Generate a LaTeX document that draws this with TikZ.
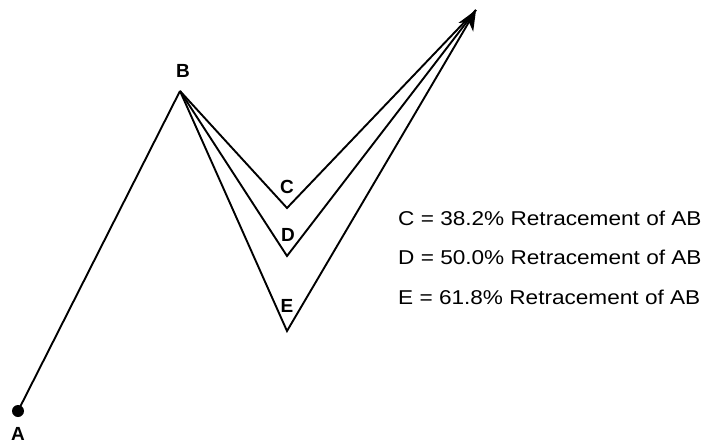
\documentclass[tikz,border=0pt]{standalone}
\usepackage{fontspec}
\setmainfont{Liberation Sans}
\usetikzlibrary{arrows.meta}
\begin{document}
\begin{tikzpicture}[x=1pt,y=-1pt,
  seg/.style={line width=1.9pt,line join=miter},
  lbl/.style={font=\bfseries\fontsize{19}{21}\selectfont,inner sep=0pt},
  note/.style={font=\fontsize{20}{22}\selectfont,anchor=west,inner sep=0pt}]
\useasboundingbox (0,0) rectangle (705,445);
\coordinate (A) at (18,411);
\coordinate (B) at (180,91);
\coordinate (C) at (287,208);
\coordinate (D) at (287,256);
\coordinate (E) at (287,331);
\coordinate (T) at (476,10);
\fill (A) circle (6);
\draw[seg] (A) -- (B);
\draw[seg] (B) -- (C) -- (T);
\draw[seg] (B) -- (D) -- (T);
\draw[seg,-{Stealth[length=20pt,width=17pt,inset=6pt]}] (B) -- (E) -- (T);
\node[lbl] (lA) at (18,434) {A};
\node[lbl] (lB) at (183,71) {B};
\node[lbl] (lC) at (287,187) {C};
\node[lbl] (lD) at (288,235) {D};
\node[lbl] (lE) at (287,306) {E};
\node[note] (nC) at (398,218) {\scalebox{1.13}[1]{C = 38.2\% Retracement of AB}};
\node[note] (nD) at (398,257) {\scalebox{1.13}[1]{D = 50.0\% Retracement of AB}};
\node[note] (nE) at (398,297) {\scalebox{1.13}[1]{E = 61.8\% Retracement of AB}};
\end{tikzpicture}
\end{document}
